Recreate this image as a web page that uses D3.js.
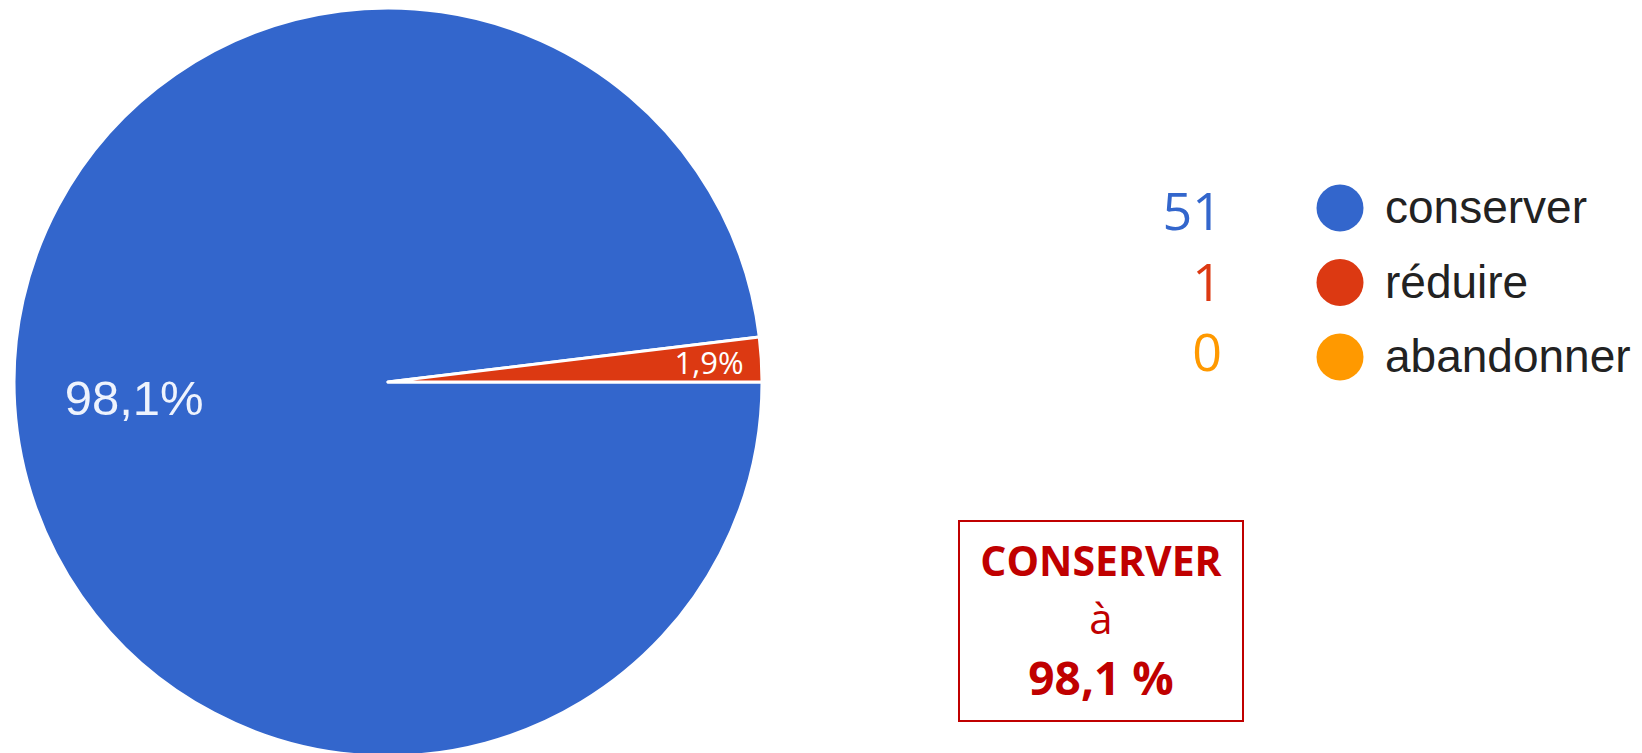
<!DOCTYPE html>
<html>
<head>
<meta charset="utf-8">
<script src="https://cdn.jsdelivr.net/npm/d3@7"></script>
<style>
  body { margin: 0; background: #fff; }
  svg { display: block; }
</style>
</head>
<body>
<svg width="1642" height="753"></svg>
<script>
// réponses du sondage
var categories = ['conserver', 'réduire', 'abandonner'];
var counts = [51, 1, 0];
var colors = ['#3366cc', '#dc3912', '#ff9900'];

var svg = d3.select('svg');
var total = d3.sum(counts);
var fmtPct = function(v) { return d3.format('.1f')(v * 100).replace('.', ','); };

var cx = 388, cy = 382, r = 374;

var rows = categories.map(function(c, i) {
  return { name: c, value: counts[i], color: colors[i] };
});

// pie starts at 3 o'clock, goes clockwise
var pie = d3.pie()
  .value(function(d) { return d.value; })
  .sort(null)
  .startAngle(Math.PI / 2)
  .endAngle(Math.PI / 2 + 2 * Math.PI);

var arc = d3.arc().innerRadius(0).outerRadius(r);
var arcs = pie(rows).filter(function(d) { return d.data.value > 0; });

var g = svg.append('g').attr('transform', 'translate(' + cx + ',' + cy + ')');

g.selectAll('path')
  .data(arcs)
  .enter().append('path')
  .attr('d', arc)
  .attr('fill', function(d) { return d.data.color; })
  .attr('stroke', '#fff')
  .attr('stroke-width', 3)
  .attr('stroke-linejoin', 'round');

// labels: big slices inside, thin slices near the rim
function isSmall(d) { return (d.endAngle - d.startAngle) < 0.5; }

g.selectAll('text.pct')
  .data(arcs)
  .enter().append('text')
  .attr('class', 'pct')
  .attr('transform', function(d) {
    var lr = isSmall(d) ? r * 0.86 : r * 0.68;
    var c = d3.arc().innerRadius(lr).outerRadius(lr).centroid(d);
    return 'translate(' + c[0] + ',' + c[1] + ')';
  })
  .attr('text-anchor', 'middle')
  .attr('dy', '0.36em')
  .attr('fill', function(d) { return isSmall(d) ? '#fff' : '#eef3fd'; })
  .style('font-family', function(d) { return isSmall(d) ? '"Open Sans", sans-serif' : '"Liberation Sans", Arial, sans-serif'; })
  .style('font-size', function(d) { return isSmall(d) ? '31px' : '49px'; })
  .text(function(d) { return fmtPct(d.data.value / total) + '%'; });

// legend
var yDot = d3.scalePoint().domain(categories).range([208, 357]);
var yNum = d3.scalePoint().domain(categories).range([230, 371]);

var leg = svg.append('g');

leg.selectAll('text.num')
  .data(rows)
  .enter().append('text')
  .attr('class', 'num')
  .attr('x', 1222)
  .attr('y', function(d) { return yNum(d.name); })
  .attr('text-anchor', 'end')
  .attr('fill', function(d) { return d.color; })
  .style('font-family', '"Open Sans", sans-serif')
  .style('font-size', '52px')
  .text(function(d) { return d.value; });

leg.selectAll('circle')
  .data(rows)
  .enter().append('circle')
  .attr('cx', 1340)
  .attr('cy', function(d) { return yDot(d.name); })
  .attr('r', 23.5)
  .attr('fill', function(d) { return d.color; });

leg.selectAll('text.lab')
  .data(rows)
  .enter().append('text')
  .attr('class', 'lab')
  .attr('x', 1385)
  .attr('y', function(d) { return yDot(d.name) + 15; })
  .attr('fill', '#222')
  .style('font-family', '"Liberation Sans", Arial, sans-serif')
  .style('font-size', '46px')
  .text(function(d) { return d.name; });

// encadré
var box = svg.append('g');
box.append('rect')
  .attr('x', 959).attr('y', 521)
  .attr('width', 284).attr('height', 200)
  .attr('fill', 'none')
  .attr('stroke', '#c00000')
  .attr('stroke-width', 2);

var boxLines = [
  { t: categories[0].toUpperCase(), y: 576, w: 'bold', s: 41 },
  { t: 'à', y: 634, w: 'normal', s: 42 },
  { t: fmtPct(counts[0] / total) + ' %', y: 695, w: 'bold', s: 46 }
];
box.selectAll('text')
  .data(boxLines)
  .enter().append('text')
  .attr('x', 1101)
  .attr('y', function(d) { return d.y; })
  .attr('text-anchor', 'middle')
  .attr('fill', '#c00000')
  .style('font-family', '"Open Sans", sans-serif')
  .style('font-weight', function(d) { return d.w; })
  .style('font-size', function(d) { return d.s + 'px'; })
  .text(function(d) { return d.t; });
</script>
</body>
</html>
